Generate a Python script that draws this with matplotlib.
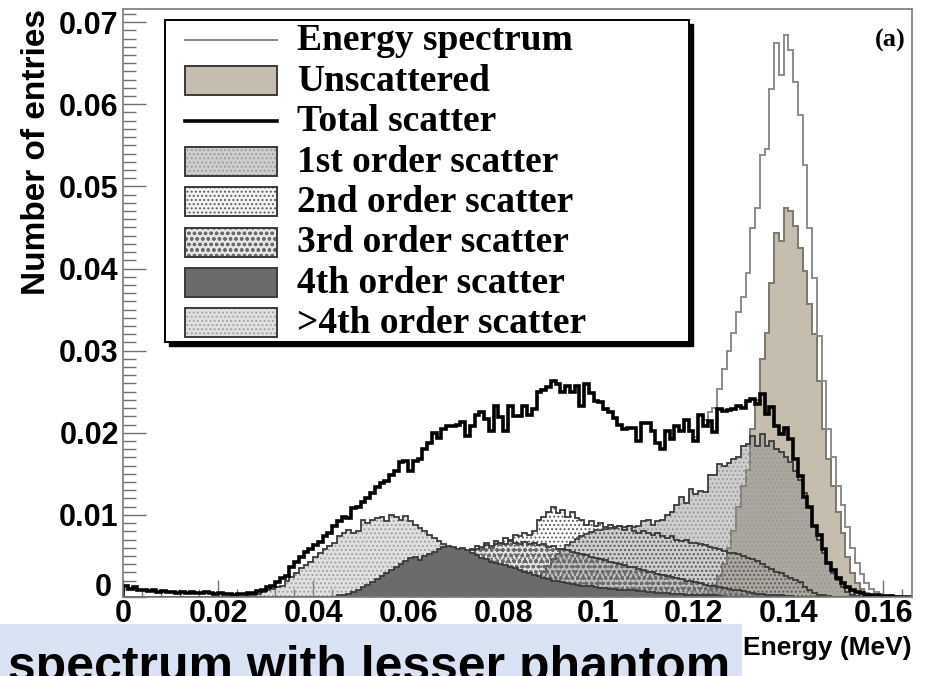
import numpy as np
import matplotlib
matplotlib.use("Agg")
import matplotlib.pyplot as plt
from matplotlib import font_manager
from matplotlib.patches import Rectangle
from matplotlib.lines import Line2D
from matplotlib.transforms import Affine2D, blended_transform_factory
from matplotlib.ticker import MultipleLocator, FuncFormatter

# ---------------- data (bin width 0.001 MeV) ----------------
bin_width = 0.001
n_bins = 166

total_scatter = [
    0.0013, 0.0010, 0.0012, 0.0008, 0.0009, 0.0007, 0.0008, 0.0006, 0.0007, 0.0006,
    0.0006, 0.0005, 0.0006, 0.0005, 0.0006, 0.0005, 0.0005, 0.0006, 0.0005, 0.0004,
    0.0005, 0.0004, 0.0004, 0.0003, 0.0004, 0.0004, 0.0005, 0.0005, 0.0007, 0.0009,
    0.0012, 0.0014, 0.0018, 0.0023, 0.0026, 0.0037, 0.0043, 0.0049, 0.0055, 0.0058,
    0.0063, 0.0067, 0.0074, 0.0078, 0.0086, 0.0092, 0.0098, 0.0096, 0.0108, 0.0110,
    0.0116, 0.0121, 0.0127, 0.0134, 0.0139, 0.0141, 0.0149, 0.0153, 0.0164, 0.0166,
    0.0153, 0.0166, 0.0168, 0.0180, 0.0188, 0.0200, 0.0194, 0.0204, 0.0208, 0.0208,
    0.0210, 0.0213, 0.0196, 0.0208, 0.0222, 0.0225, 0.0217, 0.0202, 0.0233, 0.0219,
    0.0202, 0.0233, 0.0220, 0.0220, 0.0233, 0.0222, 0.0229, 0.0250, 0.0252, 0.0256,
    0.0263, 0.0259, 0.0250, 0.0257, 0.0250, 0.0257, 0.0233, 0.0259, 0.0249, 0.0239,
    0.0237, 0.0229, 0.0225, 0.0218, 0.0210, 0.0204, 0.0206, 0.0206, 0.0190, 0.0212,
    0.0212, 0.0202, 0.0188, 0.0180, 0.0202, 0.0192, 0.0208, 0.0202, 0.0216, 0.0202,
    0.0190, 0.0222, 0.0208, 0.0214, 0.0201, 0.0229, 0.0227, 0.0228, 0.0229, 0.0232,
    0.0230, 0.0239, 0.0241, 0.0235, 0.0247, 0.0223, 0.0231, 0.0208, 0.0198, 0.0206,
    0.0192, 0.0168, 0.0147, 0.0122, 0.0110, 0.0086, 0.0076, 0.0058, 0.0042, 0.0033,
    0.0023, 0.0017, 0.0012, 0.0009, 0.0006, 0.0005, 0.0003, 0.0002, 0.0002, 0.0001,
    0.0001, 0.0001, 0.0, 0.0, 0.0, 0.0,
]

energy_spectrum = [
    0.0013, 0.0010, 0.0012, 0.0008, 0.0009, 0.0007, 0.0008, 0.0006, 0.0007, 0.0006,
    0.0006, 0.0005, 0.0006, 0.0005, 0.0006, 0.0005, 0.0005, 0.0006, 0.0005, 0.0004,
    0.0005, 0.0004, 0.0004, 0.0003, 0.0004, 0.0004, 0.0005, 0.0005, 0.0007, 0.0009,
    0.0012, 0.0014, 0.0018, 0.0023, 0.0026, 0.0037, 0.0043, 0.0049, 0.0055, 0.0058,
    0.0063, 0.0067, 0.0074, 0.0078, 0.0086, 0.0092, 0.0098, 0.0096, 0.0108, 0.0110,
    0.0116, 0.0121, 0.0127, 0.0134, 0.0139, 0.0141, 0.0149, 0.0153, 0.0164, 0.0166,
    0.0153, 0.0166, 0.0168, 0.0180, 0.0188, 0.0200, 0.0194, 0.0204, 0.0208, 0.0208,
    0.0210, 0.0213, 0.0196, 0.0208, 0.0222, 0.0225, 0.0217, 0.0202, 0.0233, 0.0219,
    0.0202, 0.0233, 0.0220, 0.0220, 0.0233, 0.0222, 0.0229, 0.0250, 0.0252, 0.0256,
    0.0263, 0.0259, 0.0250, 0.0257, 0.0250, 0.0257, 0.0233, 0.0259, 0.0249, 0.0239,
    0.0237, 0.0229, 0.0225, 0.0218, 0.0210, 0.0204, 0.0206, 0.0206, 0.0190, 0.0212,
    0.0212, 0.0202, 0.0188, 0.0180, 0.0202, 0.0192, 0.0208, 0.0202, 0.0216, 0.0202,
    0.0195, 0.0222, 0.0215, 0.0225, 0.0230, 0.0253, 0.0278, 0.0300, 0.0322, 0.0347,
    0.0365, 0.0394, 0.0449, 0.0474, 0.0538, 0.0545, 0.0618, 0.0675, 0.0636, 0.0684,
    0.0666, 0.0627, 0.0587, 0.0526, 0.0449, 0.0388, 0.0318, 0.0263, 0.0205, 0.0170,
    0.0135, 0.0112, 0.0085, 0.0060, 0.0042, 0.0028, 0.0017, 0.0010, 0.0006, 0.0004,
    0.0003, 0.0002, 0.0001, 0.0001, 0.0, 0.0,
]

unscattered_start = 0.122
unscattered = [
    0.0004, 0.0008, 0.0015, 0.0025, 0.0040, 0.0060, 0.0080, 0.0110, 0.0135, 0.0155,
    0.0205, 0.0240, 0.0290, 0.0322, 0.0382, 0.0443, 0.0434, 0.0474, 0.0470, 0.0452,
    0.0425, 0.0397, 0.0357, 0.0320, 0.0263, 0.0204, 0.0168, 0.0135, 0.0103, 0.0078,
    0.0049, 0.0029, 0.0017, 0.0010, 0.0005, 0.0003, 0.0001,
]

first_order_start = 0.085
first_order = [
    0.0010, 0.0015, 0.0022, 0.0030, 0.0038, 0.0046, 0.0052, 0.0058, 0.0063, 0.0067,
    0.0071, 0.0074, 0.0077, 0.0079, 0.0081, 0.0082, 0.0083, 0.0084, 0.0085, 0.0086,
    0.0085, 0.0086, 0.0085, 0.0086, 0.0092, 0.0094, 0.0088, 0.0092, 0.0094, 0.0100,
    0.0104, 0.0112, 0.0122, 0.0114, 0.0131, 0.0125, 0.0129, 0.0128, 0.0149, 0.0149,
    0.0162, 0.0160, 0.0163, 0.0168, 0.0170, 0.0184, 0.0186, 0.0196, 0.0184, 0.0198,
    0.0184, 0.0190, 0.0180, 0.0177, 0.0170, 0.0164, 0.0153, 0.0143, 0.0127, 0.0110,
    0.0086, 0.0070, 0.0054, 0.0042, 0.0029, 0.0021, 0.0012, 0.0006, 0.0003, 0.0001,
]

second_order_start = 0.060
second_order = [
    0.0002, 0.0003, 0.0005, 0.0007, 0.0010, 0.0014, 0.0018, 0.0023, 0.0028, 0.0033,
    0.0038, 0.0045, 0.0052, 0.0058, 0.0062, 0.0058, 0.0066, 0.0060, 0.0068, 0.0066,
    0.0072, 0.0070, 0.0076, 0.0074, 0.0078, 0.0076, 0.0080, 0.0094, 0.0098, 0.0104,
    0.0110, 0.0102, 0.0106, 0.0098, 0.0104, 0.0096, 0.0094, 0.0088, 0.0092, 0.0086,
    0.0090, 0.0085, 0.0088, 0.0084, 0.0087, 0.0082, 0.0086, 0.0080, 0.0078, 0.0080,
    0.0078, 0.0076, 0.0078, 0.0074, 0.0072, 0.0074, 0.0070, 0.0068, 0.0069, 0.0066,
    0.0066, 0.0064, 0.0063, 0.0061, 0.0060, 0.0058, 0.0056, 0.0054, 0.0054, 0.0052,
    0.0050, 0.0047, 0.0046, 0.0044, 0.0040, 0.0036, 0.0034, 0.0031, 0.0029, 0.0026,
    0.0023, 0.0021, 0.0018, 0.0012, 0.0008, 0.0005, 0.0003, 0.0002, 0.0001,
]

third_order_start = 0.050
third_order = [
    0.0002, 0.0003, 0.0004, 0.0006, 0.0007, 0.0009, 0.0011, 0.0013, 0.0015, 0.0017,
    0.0020, 0.0023, 0.0026, 0.0029, 0.0031, 0.0034, 0.0037, 0.0040, 0.0043, 0.0046,
    0.0049, 0.0052, 0.0055, 0.0057, 0.0059, 0.0061, 0.0063, 0.0062, 0.0064, 0.0066,
    0.0064, 0.0068, 0.0066, 0.0065, 0.0067, 0.0064, 0.0066, 0.0063, 0.0064, 0.0061,
    0.0062, 0.0059, 0.0058, 0.0057, 0.0055, 0.0054, 0.0052, 0.0051, 0.0049, 0.0048,
    0.0046, 0.0045, 0.0043, 0.0042, 0.0040, 0.0039, 0.0037, 0.0036, 0.0034, 0.0033,
    0.0031, 0.0030, 0.0028, 0.0027, 0.0026, 0.0024, 0.0023, 0.0022, 0.0020, 0.0019,
    0.0018, 0.0017, 0.0015, 0.0014, 0.0013, 0.0012, 0.0011, 0.0010, 0.0009, 0.0008,
    0.0007, 0.0006, 0.0005, 0.0004, 0.0004, 0.0003, 0.0003, 0.0002, 0.0002, 0.0001,
    0.0001,
]

fourth_order_start = 0.045
fourth_order = [
    0.0002, 0.0003, 0.0004, 0.0006, 0.0008, 0.0012, 0.0015, 0.0018, 0.0022, 0.0025,
    0.0029, 0.0033, 0.0036, 0.0040, 0.0044, 0.0047, 0.0049, 0.0045, 0.0050, 0.0052,
    0.0055, 0.0058, 0.0061, 0.0062, 0.0061, 0.0058, 0.0060, 0.0057, 0.0054, 0.0051,
    0.0048, 0.0046, 0.0043, 0.0041, 0.0040, 0.0039, 0.0037, 0.0035, 0.0033, 0.0031,
    0.0029, 0.0027, 0.0025, 0.0023, 0.0022, 0.0020, 0.0019, 0.0018, 0.0017, 0.0016,
    0.0015, 0.0014, 0.0013, 0.0013, 0.0012, 0.0011, 0.0011, 0.0010, 0.0010, 0.0009,
    0.0009, 0.0008, 0.0008, 0.0007, 0.0007, 0.0006, 0.0006, 0.0005, 0.0005, 0.0005,
    0.0004, 0.0004, 0.0004, 0.0003, 0.0003, 0.0003, 0.0002, 0.0002, 0.0002, 0.0002,
    0.0001,
]

higher_order_start = 0.026
higher_order = [
    0.0002, 0.0003, 0.0004, 0.0006, 0.0008, 0.0010, 0.0012, 0.0014, 0.0019, 0.0024,
    0.0029, 0.0035, 0.0039, 0.0043, 0.0049, 0.0053, 0.0058, 0.0062, 0.0066, 0.0074,
    0.0078, 0.0082, 0.0078, 0.0080, 0.0094, 0.0090, 0.0094, 0.0096, 0.0098, 0.0092,
    0.0100, 0.0098, 0.0094, 0.0099, 0.0092, 0.0088, 0.0084, 0.0080, 0.0076, 0.0072,
    0.0068, 0.0064, 0.0060, 0.0057, 0.0050, 0.0045, 0.0040, 0.0036, 0.0032, 0.0028,
    0.0025, 0.0022, 0.0019, 0.0017, 0.0015, 0.0013, 0.0012, 0.0011, 0.0010, 0.0009,
    0.0008, 0.0007, 0.0007, 0.0006, 0.0005, 0.0005, 0.0004, 0.0004, 0.0003, 0.0003,
    0.0002, 0.0002, 0.0001,
]

legend_labels = ["Energy spectrum", "Unscattered", "Total scatter",
                 "1st order scatter", "2nd order scatter", "3rd order scatter",
                 "4th order scatter", ">4th order scatter"]

x_ticks_step = 0.02
y_ticks_step = 0.01

# ---------------- helpers ----------------
edges = np.round(np.arange(n_bins + 1) * bin_width, 4)


def binned(start, vals):
    arr = np.zeros(n_bins)
    i0 = int(round(start / bin_width))
    arr[i0:i0 + len(vals)] = vals
    return arr


h_total = binned(0.0, total_scatter)
h_energy = binned(0.0, energy_spectrum)
h_unsc = binned(unscattered_start, unscattered)
h_1 = binned(first_order_start, first_order)
h_2 = binned(second_order_start, second_order)
h_3 = binned(third_order_start, third_order)
h_4 = binned(fourth_order_start, fourth_order)
h_5 = binned(higher_order_start, higher_order)

installed = {f.name for f in font_manager.fontManager.ttflist}
NARROW = "Liberation Sans Narrow" in installed
x_font = ["Liberation Sans Narrow", "Liberation Sans"] if NARROW else ["Liberation Sans"]
x_tick_size = 25 if NARROW else 22
xlabel_size = 22 if NARROW else 19

W, H = 931, 676
fig = plt.figure(figsize=(W / 100, H / 100), dpi=100)
pix = Affine2D().scale(1.0 / W, -1.0 / H).translate(0, 1) + fig.transFigure

ax_l, ax_r, ax_t, ax_b = 123, 912, 9, 597
ax = fig.add_axes([ax_l / W, (H - ax_b) / H, (ax_r - ax_l) / W, (ax_b - ax_t) / H])

plt.rcParams["hatch.linewidth"] = 0.9

TAN = "#c5bdae"
OUT = "#3a3a3a"
styles = {
    "unsc": dict(facecolor=TAN, edgecolor="#8a8478", hatch=None),
    "o1": dict(facecolor=(0.55, 0.55, 0.55, 0.42), edgecolor="#9a9a9a", hatch="...."),
    "o2": dict(facecolor=(1, 1, 1, 0.0), edgecolor="#5a5a5a", hatch="...."),
    "o3": dict(facecolor=(0.6, 0.6, 0.6, 0.25), edgecolor="#6a6a6a", hatch="ooo"),
    "o4": dict(facecolor="#6b6b6b", edgecolor="#6b6b6b", hatch=None),
    "o5": dict(facecolor=(0.6, 0.6, 0.6, 0.30), edgecolor="#a0a0a0", hatch="...."),
}


def filled(h, key, z):
    st = styles[key]
    ax.stairs(h, edges, fill=True, facecolor=st["facecolor"], edgecolor=st["edgecolor"],
              hatch=st["hatch"], linewidth=0, zorder=z)
    ax.stairs(h, edges, color=OUT, linewidth=1.3, zorder=z + 0.05)


filled(h_unsc, "unsc", 1.0)
ax.stairs(h_unsc, edges, color="#8a8478", linewidth=1.2, zorder=1.06)
filled(h_1, "o1", 1.1)
filled(h_5, "o5", 1.2)
filled(h_2, "o2", 1.3)
filled(h_3, "o3", 1.4)
filled(h_4, "o4", 1.5)
ax.stairs(h_energy, edges, color="#8c8c8c", linewidth=1.4, zorder=2.0)
ax.stairs(h_total, edges, color="black", linewidth=2.6, zorder=2.1)

ax.set_xlim(0, 0.166)
ax.set_ylim(0, 0.0716)
ax.set_axisbelow(True)

xfmt = FuncFormatter(lambda v, p: "%g" % round(v, 4))
# the y-axis "0" is placed separately (ROOT draws it a little above the corner)
yfmt = FuncFormatter(lambda v, p: "" if abs(v) < 1e-9 else "%g" % round(v, 4))
ax.xaxis.set_major_locator(MultipleLocator(x_ticks_step))
ax.xaxis.set_minor_locator(MultipleLocator(0.004))
ax.yaxis.set_major_locator(MultipleLocator(y_ticks_step))
ax.yaxis.set_minor_locator(MultipleLocator(0.001))
ax.xaxis.set_major_formatter(xfmt)
ax.yaxis.set_major_formatter(yfmt)

ax.tick_params(axis="both", which="both", direction="in", colors="#707070",
               width=1.0, top=False, right=False)
ax.tick_params(axis="y", which="major", length=16.5, pad=3)
ax.tick_params(axis="y", which="minor", length=9)
ax.tick_params(axis="x", which="major", length=12, pad=1.5)
ax.tick_params(axis="x", which="minor", length=6)
for lab in ax.get_yticklabels():
    lab.set_fontfamily("Liberation Sans")
    lab.set_fontweight("bold")
    lab.set_fontsize(22)
    lab.set_color("black")
for lab in ax.get_xticklabels():
    lab.set_fontfamily(x_font)
    lab.set_fontweight("bold")
    lab.set_fontsize(x_tick_size)
    lab.set_color("black")

ax.text(112, 588, "0", transform=pix, ha="right", va="center",
        fontfamily="Liberation Sans", fontweight="bold", fontsize=22, color="black",
        clip_on=False)

for s in ax.spines.values():
    s.set_color("#7a7a7a")
    s.set_linewidth(1.2)

ax.set_ylabel("Number of entries", loc="top", fontfamily="Liberation Sans",
              fontweight="bold", fontsize=24)
ax.yaxis.set_label_coords(-(ax_l - 37) / (ax_r - ax_l), 1.0)
ax.yaxis.label.set_verticalalignment("center")

fig.text(912, 648, "Energy (MeV)", transform=pix, ha="right", va="center",
         fontfamily=x_font, fontweight="bold", fontsize=xlabel_size)

fig.text(906, 40, "(a)", transform=pix, ha="right", va="center",
         fontfamily="Liberation Serif", fontweight="bold", fontsize=19)

# ---------------- legend (ROOT style box with shadow) ----------------
lx0, ly0, lx1, ly1 = 165, 20, 689, 342
fig.add_artist(Rectangle((lx0 + 4, ly0 + 4), lx1 - lx0, ly1 - ly0, transform=pix,
                         facecolor="black", edgecolor="black", zorder=5))
fig.add_artist(Rectangle((lx0, ly0), lx1 - lx0, ly1 - ly0, transform=pix,
                         facecolor="white", edgecolor="black", linewidth=1.4, zorder=5.1))
row0, pitch = 40, 40.4
sx0, sx1, sh = 185, 277, 29
swatch_keys = [None, "unsc", None, "o1", "o2", "o3", "o4", "o5"]
for i, lab in enumerate(legend_labels):
    yc = row0 + i * pitch
    key = swatch_keys[i]
    if i == 0:
        fig.add_artist(Line2D([sx0, sx1], [yc, yc], transform=pix, color="#8c8c8c",
                              linewidth=1.5, zorder=5.2))
    elif i == 2:
        fig.add_artist(Line2D([sx0, sx1], [yc, yc], transform=pix, color="black",
                              linewidth=2.6, zorder=5.2))
    else:
        st = styles[key]
        fc = st["facecolor"]
        if key == "o2":
            fc = "#f2f2f2"
        fig.add_artist(Rectangle((sx0, yc - sh / 2), sx1 - sx0, sh, transform=pix,
                                 facecolor=fc, edgecolor=st["edgecolor"], hatch=st["hatch"],
                                 linewidth=0, zorder=5.2))
        fig.add_artist(Rectangle((sx0, yc - sh / 2), sx1 - sx0, sh, transform=pix,
                                 fill=False, edgecolor=OUT, linewidth=1.4, zorder=5.3))
    fig.text(297, yc + 1, lab, transform=pix, ha="left", va="center",
             fontfamily="Liberation Serif", fontweight="bold", fontsize=27, zorder=5.4)

# ---------------- bottom caption strip (cropped in the reference) ----------------
fig.add_artist(Rectangle((0, 624), 742, 60, transform=pix, facecolor="#dae3f3",
                         edgecolor="none", zorder=6))
fig.text(8, 681, "spectrum with lesser phantom", transform=pix, ha="left",
         va="baseline", fontfamily="Liberation Sans", fontweight="bold", fontsize=36,
         color="black", zorder=6.1)

fig.savefig("out.png", dpi=100)
